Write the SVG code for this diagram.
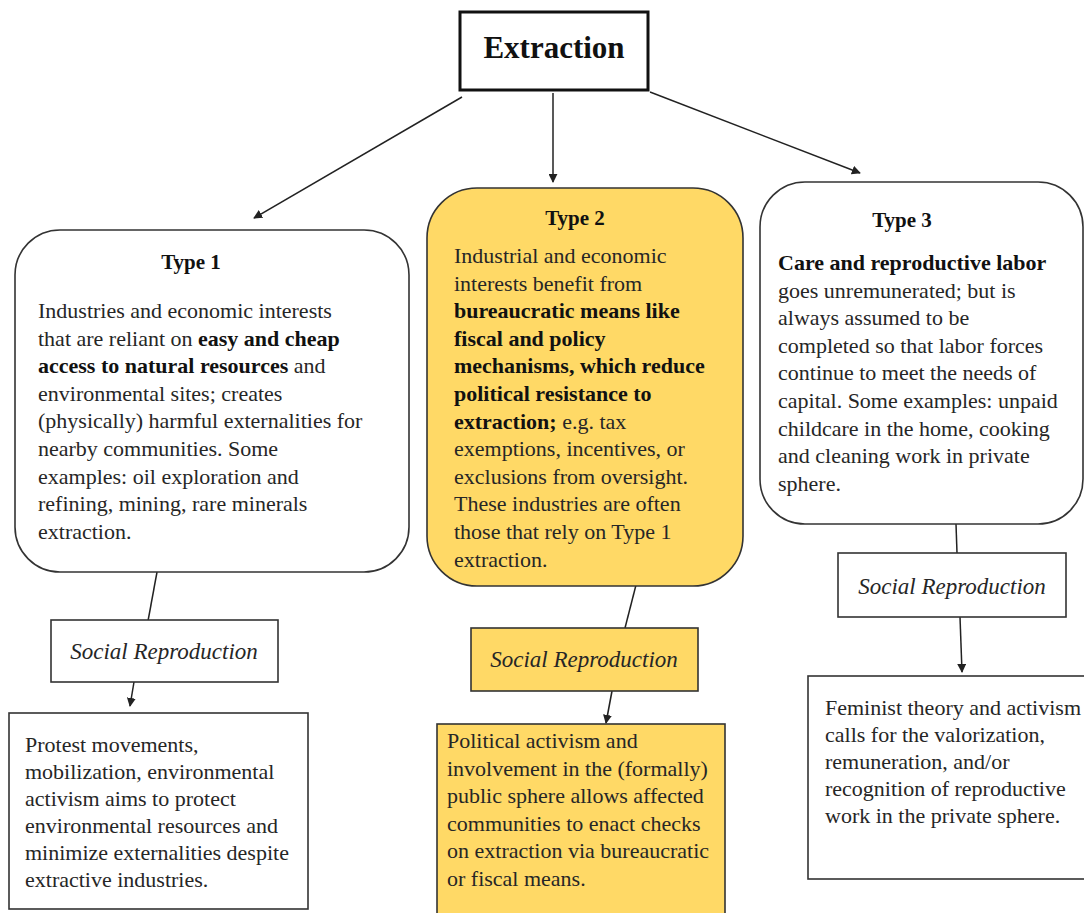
<svg xmlns="http://www.w3.org/2000/svg" width="1084" height="913" viewBox="0 0 1084 913">
<defs>
<style>
.bg{fill:#ffffff}
.box{fill:#ffffff;stroke:#333333;stroke-width:1.6}
.ybox{fill:#ffd966;stroke:#333333;stroke-width:1.6}
.root{fill:#ffffff;stroke:#111111;stroke-width:3}
.t{font-family:"Liberation Serif","DejaVu Serif",serif;font-size:22px;fill:#262626}
.b{font-weight:bold;fill:#111111}
.title{font-family:"Liberation Serif","DejaVu Serif",serif;font-size:21px;font-weight:bold;fill:#111111;text-anchor:middle}
.root-t{font-family:"Liberation Serif","DejaVu Serif",serif;font-size:31px;font-weight:bold;fill:#111111;text-anchor:middle}
.sr{font-family:"Liberation Serif","DejaVu Serif",serif;font-size:23px;font-style:italic;fill:#262626;text-anchor:middle}
.conn{stroke:#222222;stroke-width:1.5;fill:none}
</style>
<marker id="arr" viewBox="0 0 10 10" refX="9" refY="5" markerWidth="9" markerHeight="9" markerUnits="userSpaceOnUse" orient="auto">
<path d="M0,0 L10,5 L0,10 z" fill="#222222"/>
</marker>
</defs>
<rect class="bg" x="0" y="0" width="1084" height="913"/>

<g id="connectors">
<line class="conn" x1="462" y1="97" x2="254" y2="218" marker-end="url(#arr)"/>
<line class="conn" x1="553" y1="93" x2="553" y2="182" marker-end="url(#arr)"/>
<line class="conn" x1="650" y1="92" x2="860" y2="173" marker-end="url(#arr)"/>
<line class="conn" x1="157" y1="572" x2="148" y2="621"/>
<line class="conn" x1="134" y1="682" x2="130" y2="706" marker-end="url(#arr)"/>
<line class="conn" x1="636" y1="585" x2="625" y2="628"/>
<line class="conn" x1="612" y1="691" x2="606" y2="723" marker-end="url(#arr)"/>
<line class="conn" x1="956" y1="524" x2="957" y2="553"/>
<line class="conn" x1="960" y1="617" x2="962" y2="672" marker-end="url(#arr)"/>
</g>

<g id="extraction">
<rect class="root" x="460" y="12" width="188" height="78"/>
<text class="root-t" x="554" y="58">Extraction</text>
</g>

<g id="type1">
<rect class="box" x="15" y="230" width="394" height="342" rx="45" ry="45"/>
<text class="title" x="191" y="269">Type 1</text>
<text class="t" x="38" y="318">Industries and economic interests</text>
<text class="t" x="38" y="345.6">that are reliant on <tspan class="b">easy and cheap</tspan></text>
<text class="t" x="38" y="373.2"><tspan class="b">access to natural resources</tspan> and</text>
<text class="t" x="38" y="400.8">environmental sites; creates</text>
<text class="t" x="38" y="428.4">(physically) harmful externalities for</text>
<text class="t" x="38" y="456">nearby communities. Some</text>
<text class="t" x="38" y="483.6">examples: oil exploration and</text>
<text class="t" x="38" y="511.2">refining, mining, rare minerals</text>
<text class="t" x="38" y="538.8">extraction.</text>
</g>

<g id="type2">
<rect class="ybox" x="427" y="188" width="316" height="398" rx="50" ry="50"/>
<text class="title" x="575" y="225">Type 2</text>
<text class="t" x="454" y="263">Industrial and economic</text>
<text class="t" x="454" y="290.6">interests benefit from</text>
<text class="t b" x="454" y="318.2">bureaucratic means like</text>
<text class="t b" x="454" y="345.8">fiscal and policy</text>
<text class="t b" x="454" y="373.4">mechanisms, which reduce</text>
<text class="t b" x="454" y="401">political resistance to</text>
<text class="t" x="454" y="428.6"><tspan class="b">extraction;</tspan> e.g. tax</text>
<text class="t" x="454" y="456.2">exemptions, incentives, or</text>
<text class="t" x="454" y="483.8">exclusions from oversight.</text>
<text class="t" x="454" y="511.4">These industries are often</text>
<text class="t" x="454" y="539">those that rely on Type 1</text>
<text class="t" x="454" y="566.6">extraction.</text>
</g>

<g id="type3">
<rect class="box" x="760" y="182" width="323" height="342" rx="45" ry="45"/>
<text class="title" x="902" y="227">Type 3</text>
<text class="t b" x="778" y="270">Care and reproductive labor</text>
<text class="t" x="778" y="297.6">goes unremunerated; but is</text>
<text class="t" x="778" y="325.2">always assumed to be</text>
<text class="t" x="778" y="352.8">completed so that labor forces</text>
<text class="t" x="778" y="380.4">continue to meet the needs of</text>
<text class="t" x="778" y="408">capital. Some examples: unpaid</text>
<text class="t" x="778" y="435.6">childcare in the home, cooking</text>
<text class="t" x="778" y="463.2">and cleaning work in private</text>
<text class="t" x="778" y="490.8">sphere.</text>
</g>

<g id="sr1">
<rect class="box" x="51" y="620" width="227" height="62"/>
<text class="sr" x="164" y="659">Social Reproduction</text>
</g>

<g id="sr2">
<rect class="ybox" x="471" y="628" width="227" height="63"/>
<text class="sr" x="584" y="667">Social Reproduction</text>
</g>

<g id="sr3">
<rect class="box" x="838" y="553" width="228" height="64"/>
<text class="sr" x="952" y="594">Social Reproduction</text>
</g>

<g id="outcome1">
<rect class="box" x="9" y="713" width="299" height="196"/>
<text class="t" x="25" y="752">Protest movements,</text>
<text class="t" x="25" y="779">mobilization, environmental</text>
<text class="t" x="25" y="806">activism aims to protect</text>
<text class="t" x="25" y="833">environmental resources and</text>
<text class="t" x="25" y="860">minimize externalities despite</text>
<text class="t" x="25" y="887">extractive industries.</text>
</g>

<g id="outcome2">
<rect class="ybox" x="437" y="724" width="288" height="200"/>
<text class="t" x="447" y="748">Political activism and</text>
<text class="t" x="447" y="775.5">involvement in the (formally)</text>
<text class="t" x="447" y="803">public sphere allows affected</text>
<text class="t" x="447" y="830.5">communities to enact checks</text>
<text class="t" x="447" y="858">on extraction via bureaucratic</text>
<text class="t" x="447" y="885.5">or fiscal means.</text>
</g>

<g id="outcome3">
<rect class="box" x="808" y="676" width="290" height="203"/>
<text class="t" x="825" y="715">Feminist theory and activism</text>
<text class="t" x="825" y="742">calls for the valorization,</text>
<text class="t" x="825" y="769">remuneration, and/or</text>
<text class="t" x="825" y="796">recognition of reproductive</text>
<text class="t" x="825" y="823">work in the private sphere.</text>
</g>
</svg>
